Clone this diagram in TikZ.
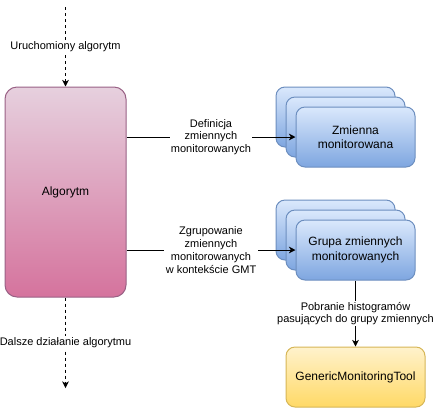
\documentclass[tikz,border=0pt]{standalone}
\usepackage{fontspec}
\setmainfont{Liberation Sans}
\usetikzlibrary{arrows.meta}

\definecolor{pinkTop}{HTML}{E6D0DE}
\definecolor{pinkBot}{HTML}{D5739D}
\definecolor{pinkLine}{HTML}{996185}
\definecolor{blueTop}{HTML}{DAE8FC}
\definecolor{blueBot}{HTML}{7EA6E0}
\definecolor{blueLine}{HTML}{6C8EBF}
\definecolor{yelTop}{HTML}{FFF2CC}
\definecolor{yelBot}{HTML}{FFD966}
\definecolor{yelLine}{HTML}{D6B656}

\begin{document}
\begin{tikzpicture}[x = 0.75pt, y = -0.75pt,
	box/.style = {rounded corners = 6.75pt, line width = 0.75pt, inner sep = 0pt, align = center, font = \fontsize{9}{10.8}\selectfont},
	pinkbox/.style = {box, draw = pinkLine, top color = pinkTop, bottom color = pinkBot, rounded corners = 9pt},
	bluebox/.style = {box, draw = blueLine, top color = blueTop, bottom color = blueBot, minimum width = 89.25pt, minimum height = 45pt},
	yelbox/.style = {box, draw = yelLine, top color = yelTop, bottom color = yelBot, minimum width = 104.25pt, minimum height = 45pt},
	flow/.style = {line width = 0.75pt, -{Stealth[length = 5pt, width = 5pt, inset = 1.5pt]}},
	dflow/.style = {flow, dash pattern = on 2.25pt off 2.25pt},
	lbl/.style = {fill = white, align = center, inner sep = 1pt, font = \fontsize{8.25}{9.6}\selectfont}]
	\useasboundingbox (0,0) rectangle (434,408);

	% algorytm
	\coordinate (start) at (65.5,7);
	\coordinate (stop) at (65.5,388);
	\node[pinkbox, minimum width = 90.75pt, minimum height = 157.5pt] (alg) at (65.5,192) {Algorytm};
	\draw[dflow] (start) -- (alg.north) node [lbl, pos = 0.5] {Uruchomiony algorytm};
	\draw[dflow] (alg.south) -- (stop) node [lbl, pos = 0.5] {Dalsze działanie algorytmu};

	% zmienne monitorowane
	\node[bluebox] (zmC) at (335.5,117) {};
	\node[bluebox] (zmB) at (345.5,127) {};
	\node[bluebox] (zmA) at (355.5,137) {Zmienna\\monitorowana};
	\draw[flow] (alg.east |- zmA.west) -- (zmA.west) node [lbl, pos = 0.5] {Definicja\\zmiennych\\monitorowanych};

	% grupy zmiennych
	\node[bluebox] (grC) at (335.5,230) {};
	\node[bluebox] (grB) at (345.5,240) {};
	\node[bluebox] (grA) at (355.5,250) {Grupa zmiennych\\monitorowanych};
	\draw[flow] (alg.east |- grA.west) -- (grA.west) node [lbl, pos = 0.5] {Zgrupowanie\\zmiennych\\monitorowanych\\w kontekście GMT};

	% GMT
	\node[yelbox] (gmt) at (355.5,377) {GenericMonitoringTool};
	\draw[flow] (grA.south) -- (gmt.north) node [lbl, pos = 0.5] {Pobranie histogramów\\pasujących do grupy zmiennych};
\end{tikzpicture}
\end{document}
